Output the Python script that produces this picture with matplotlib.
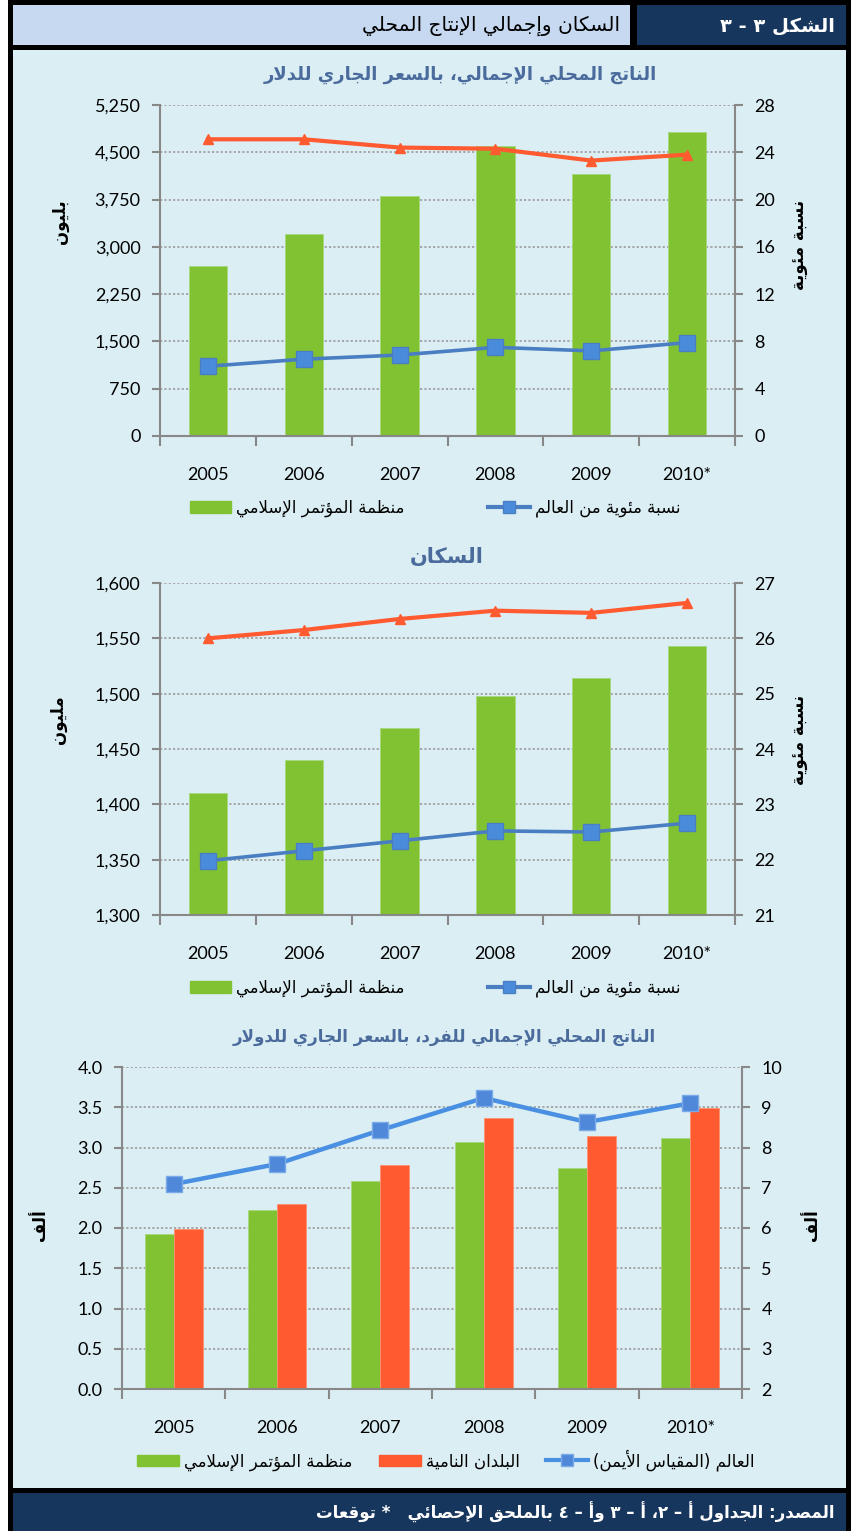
#-*- coding:utf-8 -*-
import numpy as np
import matplotlib.pyplot as plt
import matplotlib.ticker as mtick
from matplotlib.patches import Rectangle, Patch
from matplotlib.lines import Line2D

# ---- data ----
years = ['2005', '2006', '2007', '2008', '2009', '2010*']

gdp_oic = [2700, 3200, 3800, 4600, 4150, 4820]          # billion
gdp_oic_share = [5.9, 6.5, 6.85, 7.5, 7.2, 7.9]         # % of world
gdp_dev_share = [25.1, 25.1, 24.4, 24.3, 23.3, 23.8]    # % (orange line)

pop_oic = [1410, 1440, 1469, 1498, 1514, 1543]          # million
pop_oic_share = [21.98, 22.16, 22.34, 22.52, 22.5, 22.66]
pop_dev_share = [26.0, 26.15, 26.35, 26.5, 26.46, 26.64]

pc_oic = [1.93, 2.22, 2.58, 3.07, 2.75, 3.12]           # thousand $
pc_dev = [1.99, 2.30, 2.78, 3.37, 3.14, 3.49]
pc_world = [7.09, 7.59, 8.43, 9.23, 8.63, 9.10]

GREEN = '#80C232'
ORANGE = '#FF5A30'
BLUE_D = '#4A7EC2'
BLUE_M = '#4A8CDC'
BLUE_L = '#4A90E2'
TITLE_C = '#4A6B9C'
PANEL = '#DBEEF4'
NAVY = '#17365D'
GRID = '#A0A0A0'
SPINE = '#888888'

# ---- arabic shaping (no bidi engine in matplotlib) ----
FORMS = {}
for code, base, n in [(0x621, 0xFE80, 1), (0x622, 0xFE81, 2), (0x623, 0xFE83, 2), (0x624, 0xFE85, 2),
                      (0x625, 0xFE87, 2), (0x626, 0xFE89, 4), (0x627, 0xFE8D, 2), (0x628, 0xFE8F, 4),
                      (0x629, 0xFE93, 2), (0x62A, 0xFE95, 4), (0x62B, 0xFE99, 4), (0x62C, 0xFE9D, 4),
                      (0x62D, 0xFEA1, 4), (0x62E, 0xFEA5, 4), (0x62F, 0xFEA9, 2), (0x630, 0xFEAB, 2),
                      (0x631, 0xFEAD, 2), (0x632, 0xFEAF, 2), (0x633, 0xFEB1, 4), (0x634, 0xFEB5, 4),
                      (0x635, 0xFEB9, 4), (0x636, 0xFEBD, 4), (0x637, 0xFEC1, 4), (0x638, 0xFEC5, 4),
                      (0x639, 0xFEC9, 4), (0x63A, 0xFECD, 4), (0x641, 0xFED1, 4), (0x642, 0xFED5, 4),
                      (0x643, 0xFED9, 4), (0x644, 0xFEDD, 4), (0x645, 0xFEE1, 4), (0x646, 0xFEE5, 4),
                      (0x647, 0xFEE9, 4), (0x648, 0xFEED, 2), (0x649, 0xFEEF, 2), (0x64A, 0xFEF1, 4)]:
    FORMS[chr(code)] = (base, n)
LAMALEF = {'\u0622': 0xFEF5, '\u0623': 0xFEF7, '\u0625': 0xFEF9, '\u0627': 0xFEFB}


def ar(s):
    chars = []
    i = 0
    while i < len(s):
        if s[i] == '\u0644' and i + 1 < len(s) and s[i + 1] in LAMALEF:
            chars.append(('LA', s[i + 1]))
            i += 2
        else:
            chars.append(s[i])
            i += 1

    def joins_next(c):
        return (not isinstance(c, tuple)) and c in FORMS and FORMS[c][1] == 4

    def is_letter(c):
        return isinstance(c, tuple) or c in FORMS

    out = []
    for k, c in enumerate(chars):
        prev = chars[k - 1] if k > 0 else None
        nxt = chars[k + 1] if k + 1 < len(chars) else None
        p = prev is not None and joins_next(prev)
        if isinstance(c, tuple):
            out.append(chr(LAMALEF[c[1]] + (1 if p else 0)))
            continue
        if c not in FORMS:
            out.append(c)
            continue
        base, n = FORMS[c]
        nx = n == 4 and nxt is not None and is_letter(nxt)
        if n == 1:
            f = 0
        elif p and nx:
            f = 3
        elif p:
            f = 1
        elif nx:
            f = 2
        else:
            f = 0
        out.append(chr(base + f))
    return ''.join(out)[::-1].translate(str.maketrans('()', ')('))


plt.rcParams['font.family'] = ['Lato', 'DejaVu Sans']
AR = ['DejaVu Sans']

W, H = 851, 1531
fig = plt.figure(figsize=(W / 100, H / 100), dpi=100)
fig.patch.set_facecolor('white')


def fx(x):
    return x / W


def fy(y):
    return 1 - y / H


def box(x0, y0, x1, y1, c):
    fig.add_artist(Rectangle((fx(x0), fy(y1)), fx(x1) - fx(x0), fy(y0) - fy(y1),
                             transform=fig.transFigure, color=c, lw=0, zorder=-10))


# frame, header, panel, footer
box(8, 0, 851, 1531, 'black')
box(13, 50, 846, 1488, PANEL)
box(13, 5, 630, 45, '#C6D9F1')
box(637, 5, 846, 45, NAVY)
box(13, 1493, 846, 1531, NAVY)

fig.text(fx(835), fy(26), ar('الشكل ٣ - ٣'), family=AR, fontsize=14, fontweight='bold',
         color='white', ha='right', va='center')
fig.text(fx(620), fy(26), ar('السكان وإجمالي الإنتاج المحلي'), family=AR, fontsize=14.5,
         color='black', ha='right', va='center')
fig.text(fx(835), fy(1512), ar('المصدر: الجداول أ – ٢، أ – ٣ وأ – ٤ بالملحق الإحصائي   * توقعات'),
         family=AR, fontsize=12, fontweight='bold', color='white', ha='right', va='center')


def make_axes(left, right, top, bottom):
    ax = fig.add_axes([fx(left), fy(bottom), fx(right) - fx(left), fy(top) - fy(bottom)])
    ax.set_facecolor('none')
    ax2 = ax.twinx()
    ax2.set_facecolor('none')
    for a in (ax, ax2):
        a.spines['top'].set_visible(False)
        for s in ('left', 'right', 'bottom'):
            a.spines[s].set_color(SPINE)
            a.spines[s].set_linewidth(1.5)
        a.tick_params(axis='y', colors=SPINE, labelcolor='black', labelsize=13, length=6, width=1.5, pad=8)
    ax.spines['right'].set_visible(False)
    ax2.spines['left'].set_visible(False)
    ax2.spines['bottom'].set_visible(False)
    ax.set_xlim(-0.5, 5.5)
    ax.set_xticks(range(6))
    ax.set_xticklabels(years)
    ax.set_xticks(np.arange(-0.5, 6, 1), minor=True)
    ax.tick_params(axis='x', which='major', length=0, labelsize=13, pad=22)
    ax.tick_params(axis='x', which='minor', length=7, width=1.5, colors=SPINE)
    ax.yaxis.grid(True, linestyle=(0, (1.2, 1.2)), color=GRID, linewidth=1.3)
    ax.set_axisbelow(True)
    return ax, ax2


x = np.arange(6)
LEG = {'family': AR, 'size': 12}

# ---- chart 1: GDP ----
ax, ax2 = make_axes(160, 735, 105, 436)
ax.bar(x, gdp_oic, width=0.4, color=GREEN, edgecolor='#A8D880', linewidth=0.6, zorder=2)
ax.set_ylim(0, 5250)
ax.set_yticks(np.arange(0, 5251, 750))
ax.yaxis.set_major_formatter(mtick.FuncFormatter(lambda v, p: '{:,.0f}'.format(v)))
ax2.plot(x, gdp_dev_share, color=ORANGE, lw=3, marker='^', ms=7, zorder=3)
ax2.plot(x, gdp_oic_share, color=BLUE_D, lw=2.6, marker='s', ms=11, mfc=BLUE_M, mec=BLUE_D, zorder=4)
ax2.set_ylim(0, 28)
ax2.set_yticks(np.arange(0, 29, 4))
fig.text(fx(460), fy(75), ar('الناتج المحلي الإجمالي، بالسعر الجاري للدلار'), family=AR,
         fontsize=13, fontweight='bold', color=TITLE_C, ha='center', va='center')
fig.text(fx(60), fy(222), ar('بليون'), family=AR, fontsize=12, fontweight='bold', rotation=90,
         ha='center', va='center')
fig.text(fx(800), fy(245), ar('نسبة مئوية'), family=AR, fontsize=12, fontweight='bold', rotation=90,
         ha='center', va='center')
h1 = [Patch(color=GREEN), Line2D([], [], color=BLUE_D, lw=3, marker='s', ms=9, mfc=BLUE_M, mec=BLUE_D)]
l1 = [ar('منظمة المؤتمر الإسلامي'), ar('نسبة مئوية من العالم')]
ax.legend(h1, l1, loc='center', bbox_to_anchor=(fx(435), fy(508)), bbox_transform=fig.transFigure,
          ncol=2, frameon=False, prop=LEG, handlelength=2.5, handletextpad=0.3, columnspacing=5)

# ---- chart 2: population ----
ax, ax2 = make_axes(160, 735, 583, 915)
ax.bar(x, pop_oic, width=0.4, color=GREEN, edgecolor='#A8D880', linewidth=0.6, zorder=2)
ax.set_ylim(1300, 1600)
ax.set_yticks(np.arange(1300, 1601, 50))
ax.yaxis.set_major_formatter(mtick.FuncFormatter(lambda v, p: '{:,.0f}'.format(v)))
ax2.plot(x, pop_dev_share, color=ORANGE, lw=3, marker='^', ms=7, zorder=3)
ax2.plot(x, pop_oic_share, color=BLUE_D, lw=2.6, marker='s', ms=11, mfc=BLUE_M, mec=BLUE_D, zorder=4)
ax2.set_ylim(21, 27)
ax2.set_yticks(np.arange(21, 28, 1))
fig.text(fx(447), fy(557), ar('السكان'), family=AR, fontsize=15, fontweight='bold', color=TITLE_C,
         ha='center', va='center')
fig.text(fx(58), fy(720), ar('مليون'), family=AR, fontsize=12, fontweight='bold', rotation=90,
         ha='center', va='center')
fig.text(fx(800), fy(740), ar('نسبة مئوية'), family=AR, fontsize=12, fontweight='bold', rotation=90,
         ha='center', va='center')
ax.legend(h1, l1, loc='center', bbox_to_anchor=(fx(435), fy(988)), bbox_transform=fig.transFigure,
          ncol=2, frameon=False, prop=LEG, handlelength=2.5, handletextpad=0.3, columnspacing=5)

# ---- chart 3: GDP per capita ----
ax, ax2 = make_axes(122, 742, 1067, 1389)
bw = 0.28
ax.bar(x - bw / 2, pc_oic, width=bw, color=GREEN, edgecolor='#A8D880', linewidth=0.6, zorder=2)
ax.bar(x + bw / 2, pc_dev, width=bw, color=ORANGE, edgecolor='#FF9070', linewidth=0.6, zorder=2)
ax.set_ylim(0, 4)
ax.set_yticks(np.arange(0, 4.01, 0.5))
ax.yaxis.set_major_formatter(mtick.FormatStrFormatter('%.1f'))
ax2.plot(x, pc_world, color=BLUE_L, lw=3.2, marker='s', ms=12, mfc='#4F88D8', mec='#7AAAE8', zorder=4)
ax2.set_ylim(2, 10)
ax2.set_yticks(np.arange(2, 11, 1))
fig.text(fx(444), fy(1037), ar('الناتج المحلي الإجمالي للفرد، بالسعر الجاري للدولار'), family=AR,
         fontsize=12, fontweight='bold', color=TITLE_C, ha='center', va='center')
fig.text(fx(40), fy(1225), ar('ألف'), family=AR, fontsize=12, fontweight='bold', rotation=90,
         ha='center', va='center')
fig.text(fx(812), fy(1225), ar('ألف'), family=AR, fontsize=12, fontweight='bold', rotation=90,
         ha='center', va='center')
h3 = [Patch(color=GREEN), Patch(color=ORANGE),
      Line2D([], [], color=BLUE_L, lw=3, marker='s', ms=9, mfc='#4F88D8', mec='#7AAAE8')]
l3 = [ar('منظمة المؤتمر الإسلامي'), ar('البلدان النامية'), ar('العالم (المقياس الأيمن)')]
ax.legend(h3, l3, loc='center', bbox_to_anchor=(fx(446), fy(1460)), bbox_transform=fig.transFigure,
          ncol=3, frameon=False, prop=LEG, handlelength=2.5, handletextpad=0.3, columnspacing=1.6)

plt.savefig('out.png', dpi=100)
